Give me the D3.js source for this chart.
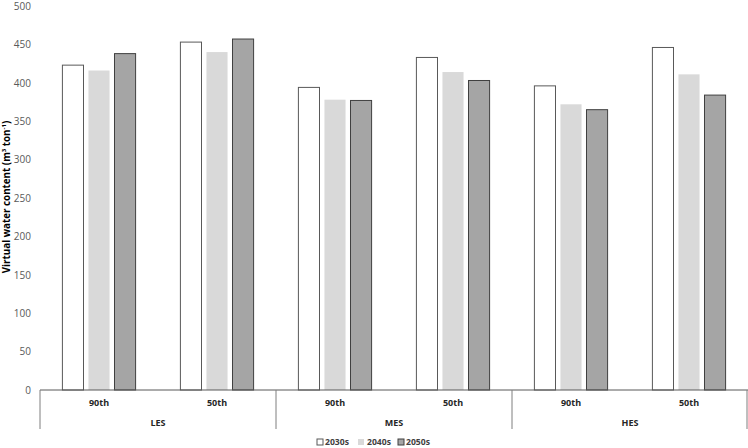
<!DOCTYPE html>
<html>
<head>
<meta charset="utf-8">
<script src="https://cdn.jsdelivr.net/npm/d3@7"></script>
<style>
  body { margin: 0; background: #fff; }
  svg text { font-family: "Open Sans", "Noto Sans", sans-serif; }
</style>
</head>
<body>
<div id="chart"></div>
<script>
// data
let groups = ["LES", "MES", "HES"];
let percentiles = ["90th", "50th"];
let series = ["2030s", "2040s", "2050s"];
let v2030s = [423, 453, 394, 433, 396, 446];
let v2040s = [416, 440, 378, 414, 372, 411];
let v2050s = [438, 457, 377, 403, 365, 384];
let yTicks = [0, 50, 100, 150, 200, 250, 300, 350, 400, 450, 500];

let fills = {"2030s": "#ffffff", "2040s": "#d9d9d9", "2050s": "#a5a5a5"};
let strokes = {"2030s": "#595959", "2040s": "none", "2050s": "#404040"};

let width = 748, height = 448;
let margin = {top: 6, right: 0, bottom: 58, left: 40};

let svg = d3.select("#chart")
            .append("svg")
            .attr("width", width)
            .attr("height", height);

// one slot per group/percentile pair
let slots = [];
groups.forEach(function(g) {
    percentiles.forEach(function(p) { slots.push(g + "|" + p); });
});

let values = [v2030s, v2040s, v2050s];
let data = slots.map(function(slot, i) {
    return series.map(function(s, j) { return {slot: slot, key: s, value: values[j][i]}; });
});

let x0 = d3.scaleBand()
           .domain(slots)
           .range([margin.left, width])
           .padding(0);

let x1 = d3.scaleBand()
           .domain(series)
           .range([0, x0.bandwidth()])
           .paddingInner(0.19)
           .paddingOuter(0.86);

let y = d3.scaleLinear()
          .domain([0, 500])
          .range([height - margin.bottom, margin.top]);

let yAxis = svg.append("g")
   .attr("transform", "translate(" + margin.left + ",0)")
   .call(d3.axisLeft(y).tickValues(yTicks).tickSize(0).tickPadding(9));
yAxis.select(".domain").remove();
yAxis.selectAll("text")
     .attr("fill", "#595959")
     .style("font-size", "10px");

// bars
svg.append("g")
   .selectAll("g")
   .data(data)
   .enter()
   .append("g")
   .attr("transform", function(d) { return "translate(" + x0(d[0].slot) + ",0)"; })
   .selectAll("rect")
   .data(function(d) { return d; })
   .enter()
   .append("rect")
   .attr("x", function(d) { return x1(d.key); })
   .attr("y", function(d) { return y(d.value); })
   .attr("width", x1.bandwidth())
   .attr("height", function(d) { return y(0) - y(d.value); })
   .attr("fill", function(d) { return fills[d.key]; })
   .attr("stroke", function(d) { return strokes[d.key]; })
   .attr("stroke-width", 1);

// category axis
let base = y(0);
svg.append("line")
   .attr("x1", margin.left).attr("x2", width)
   .attr("y1", base).attr("y2", base)
   .attr("stroke", "#595959");

let groupWidth = x0.bandwidth() * percentiles.length;
groups.forEach(function(g, i) {
    let gx = x0(g + "|" + percentiles[0]);
    svg.append("line")
       .attr("x1", gx).attr("x2", gx)
       .attr("y1", base).attr("y2", base + 39)
       .attr("stroke", "#7f7f7f");
    svg.append("text")
       .attr("x", gx + groupWidth / 2)
       .attr("y", base + 36)
       .attr("text-anchor", "middle")
       .style("font-size", "9px")
       .style("font-weight", "bold")
       .attr("fill", "#262626")
       .text(g);
});
svg.append("line")
   .attr("x1", width - 1).attr("x2", width - 1)
   .attr("y1", base).attr("y2", base + 39)
   .attr("stroke", "#7f7f7f");

slots.forEach(function(slot) {
    svg.append("text")
       .attr("x", x0(slot) + x0.bandwidth() / 2)
       .attr("y", base + 16)
       .attr("text-anchor", "middle")
       .style("font-size", "9px")
       .style("font-weight", "bold")
       .attr("fill", "#262626")
       .text(slot.split("|")[1]);
});

// y title
svg.append("text")
   .attr("transform", "translate(10," + 197 + ") rotate(-90)")
   .attr("text-anchor", "middle")
   .style("font-size", "9.8px")
   .style("font-weight", "bold")
   .attr("fill", "#000")
   .html('Virtual water content (m<tspan baseline-shift="super" font-size="6px">3</tspan> ton<tspan baseline-shift="super" font-size="6px">-1</tspan>)');

// legend
let legendX = [317, 358, 398];
let legend = svg.append("g")
   .selectAll("g")
   .data(series)
   .enter()
   .append("g")
   .attr("transform", function(d, i) { return "translate(" + legendX[i] + ",439)"; });

legend.append("rect")
      .attr("width", 6)
      .attr("height", 6)
      .attr("fill", function(d) { return fills[d]; })
      .attr("stroke", function(d) { return strokes[d]; });

legend.append("text")
      .attr("x", function(d, i) { return i == 1 ? 9 : 8; })
      .attr("y", 3)
      .attr("dy", "0.35em")
      .style("font-size", "8.6px")
      .style("font-weight", "bold")
      .attr("fill", "#404040")
      .text(function(d) { return d; });
</script>
</body>
</html>
